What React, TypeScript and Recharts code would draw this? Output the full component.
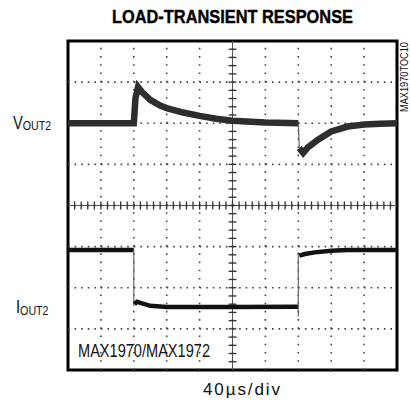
import { LineChart, Line, XAxis, YAxis, ReferenceLine, ReferenceArea } from 'recharts';

// scope screen: 10 horizontal divisions, 8 vertical divisions
const xDivs = [0, 1, 2, 3, 4, 5, 6, 7, 8, 9, 10];
const yDivs = [0, 1, 2, 3, 4, 5, 6, 7, 8];

// VOUT2 trace (in divisions)
const voutTimeA = [0, 1, 2.0, 2.05, 2.13, 2.25, 2.5, 2.8, 3.0, 3.5, 4.0, 4.5, 5.0, 6.0, 7.0];
const voutA = [6.0, 6.0, 6.0, 6.6, 6.88, 6.76, 6.57, 6.43, 6.37, 6.26, 6.18, 6.11, 6.06, 6.02, 6.0];
const voutEdgeTime = [7.0, 7.03];
const voutEdge = [6.0, 5.4];
const voutTimeB = [7.03, 7.15, 7.3, 7.6, 8.0, 8.5, 9.0, 9.5, 10];
const voutB = [5.4, 5.28, 5.42, 5.6, 5.8, 5.92, 5.97, 5.99, 6.0];

// IOUT2 trace
const ioutTimeA = [0, 1, 2.0];
const ioutA = [2.92, 2.92, 2.92];
const ioutEdge1Time = [2.0, 2.0];
const ioutEdge1 = [2.92, 1.55];
const ioutTimeB = [2.02, 2.1, 2.25, 2.5, 3, 5, 7.0];
const ioutB = [1.6, 1.66, 1.62, 1.56, 1.53, 1.53, 1.54];
const ioutEdge2Time = [7.0, 7.0];
const ioutEdge2 = [1.3, 2.87];
const ioutTimeC = [7.03, 7.2, 7.5, 8.0, 8.5, 10];
const ioutC = [2.78, 2.82, 2.86, 2.9, 2.92, 2.92];

const minorX = Array.from({ length: 49 }, (_, i) => (i + 1) * 0.2);
const minorY = Array.from({ length: 39 }, (_, i) => (i + 1) * 0.2);

const toRows = (t: number[], v: number[]) => t.map((x, i) => ({ t: x, v: v[i] }));

const sans = "'Liberation Sans', Arial, sans-serif";

export default function App() {
  return (
    <div style={{ position: 'absolute', left: 0, top: 0, width: 410, height: 409, background: '#fff' }}>
      <LineChart width={410} height={409} margin={{ top: 41, right: 13, left: 68, bottom: 39 }}>
        <XAxis type="number" dataKey="t" domain={[0, 10]} ticks={xDivs} hide allowDuplicatedCategory={false} />
        <YAxis type="number" dataKey="v" domain={[0, 8]} ticks={yDivs} hide />
        {xDivs.slice(1, -1).map((x) => (
          <ReferenceLine key={'gx' + x} x={x} stroke="#444" strokeWidth={1.6} strokeDasharray="1.6 6.62" ifOverflow="visible" />
        ))}
        {yDivs.slice(1, -1).map((y) => (
          <ReferenceLine key={'gy' + y} y={y} stroke="#444" strokeWidth={1.6} strokeDasharray="1.6 4.98" ifOverflow="visible" />
        ))}
        <ReferenceLine x={5} stroke="#555" strokeWidth={1} />
        <ReferenceLine y={4} stroke="#555" strokeWidth={1} />
        {minorX.map((x) => (
          <ReferenceLine key={'mx' + x} segment={[{ x, y: 3.9 }, { x, y: 4.1 }]} stroke="#333" strokeWidth={1.3} />
        ))}
        {minorY.map((y) => (
          <ReferenceLine key={'my' + y} segment={[{ x: 4.88, y }, { x: 5.12, y }]} stroke="#333" strokeWidth={1.3} />
        ))}
        <ReferenceArea x1={0} x2={10} y1={0} y2={8} fill="none" stroke="#000" strokeWidth={3} ifOverflow="visible" />
        <Line data={toRows(voutTimeA, voutA)} dataKey="v" stroke="#2e2e2e" strokeWidth={6.5} dot={false} isAnimationActive={false} />
        <Line data={toRows(voutEdgeTime, voutEdge)} dataKey="v" stroke="#666" strokeWidth={1.2} dot={false} isAnimationActive={false} />
        <Line data={toRows(voutTimeB, voutB)} dataKey="v" stroke="#2e2e2e" strokeWidth={6.5} dot={false} isAnimationActive={false} />
        <Line data={toRows(ioutTimeA, ioutA)} dataKey="v" stroke="#111" strokeWidth={4.5} dot={false} isAnimationActive={false} />
        <Line data={toRows(ioutEdge1Time, ioutEdge1)} dataKey="v" stroke="#666" strokeWidth={1.2} dot={false} isAnimationActive={false} />
        <Line data={toRows(ioutTimeB, ioutB)} dataKey="v" stroke="#111" strokeWidth={4.5} dot={false} isAnimationActive={false} />
        <Line data={toRows(ioutEdge2Time, ioutEdge2)} dataKey="v" stroke="#666" strokeWidth={1.2} dot={false} isAnimationActive={false} />
        <Line data={toRows(ioutTimeC, ioutC)} dataKey="v" stroke="#111" strokeWidth={4.5} dot={false} isAnimationActive={false} />
      </LineChart>
      <svg width={410} height={409} style={{ position: 'absolute', left: 0, top: 0, pointerEvents: 'none' }}>
        <text x={232.5} y={22.5} textAnchor="middle" fontFamily={sans} fontWeight={700} fontSize={19} textLength={241} lengthAdjust="spacingAndGlyphs" fill="#000" stroke="#000" strokeWidth={0.4}>
          LOAD-TRANSIENT RESPONSE
        </text>
        <text transform="translate(13,128.5) scale(0.82,1)" fontFamily={sans} fontSize={18} fill="#111">
          V<tspan fontSize={13} dy={1}>OUT2</tspan>
        </text>
        <text transform="translate(16,313) scale(0.82,1)" fontFamily={sans} fontSize={18} fill="#111">
          I<tspan fontSize={13} dy={2}>OUT2</tspan>
        </text>
        <text x={78} y={357} fontFamily={sans} fontSize={18} textLength={132} lengthAdjust="spacingAndGlyphs" fill="#111">
          MAX1970/MAX1972
        </text>
        <text x={241.5} y={395} textAnchor="middle" fontFamily={sans} fontSize={17} textLength={77} lengthAdjust="spacing" fill="#111">
          40µs/div
        </text>
        <text x={407.5} y={77} textAnchor="middle" transform="rotate(-90 407.5 77)" fontFamily={sans} fontSize={10} textLength={70} lengthAdjust="spacingAndGlyphs" fill="#111">
          MAX1970TOC10
        </text>
      </svg>
    </div>
  );
}
